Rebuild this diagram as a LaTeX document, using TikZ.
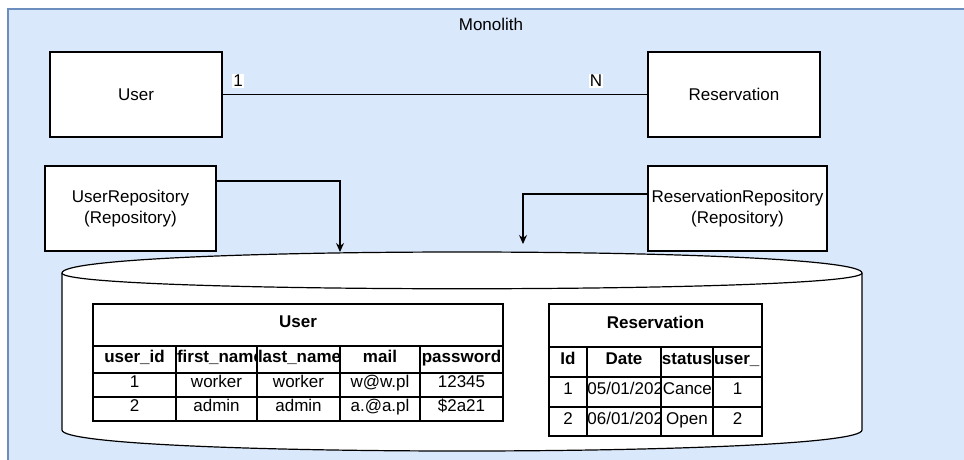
\documentclass[tikz,border=0pt]{standalone}
\usepackage{fontspec}
\setmainfont{Liberation Sans}
\usetikzlibrary{arrows.meta}
\definecolor{contfill}{HTML}{DAE8FC}
\definecolor{contline}{HTML}{6C8EBF}
% centred cell: x1 y1 x2 y2 text name
\newcommand{\tcellC}[6]{%
  \draw[tline] (#1,#2) rectangle (#3,#4);
  \node[celltext] (#6) at ({(#1+#3)/2},{(#2+#4)/2}) {#5};}
% left aligned clipped cell (text overflows, box kept inside the cell)
\newcommand{\tcellL}[7][0.8]{%
  \draw[tline] (#2,#3) rectangle (#4,#5);
  \begin{scope}\clip (#2,#3) rectangle (#4,#5);
  \pgfmathsetlengthmacro{\cw}{(#4-#2)-2}%
  \node[celltext,anchor=west] (#7) at ({#2+#1},{(#3+#5)/2}) {\makebox[\cw][l]{#6}};\end{scope}}
\begin{document}
\begin{tikzpicture}[x=1pt,y=-1pt,
  txt/.style={font=\fontsize{17}{20.5}\selectfont},
  box/.style={draw,line width=1.2pt,fill=white,inner sep=0,txt,align=center},
  tline/.style={line width=1.2pt},
  celltext/.style={inner sep=0,txt,text height=12pt,text depth=6.8pt},
  arr/.style={line width=1.2pt,-{Stealth[length=9pt,width=8pt]}},
  lbl/.style={fill=white,inner sep=1pt,txt}]
\useasboundingbox (0,0) rectangle (964,459);
\fill[white] (0,0) rectangle (964,459);
% container
\draw[contline,fill=contfill,line width=1.3pt] (8,9) rectangle (968,465);
\node[txt] (mono) at (491,24) {Monolith};
% entities
\node[box,minimum width=172pt,minimum height=85pt] (user) at (136,94.5) {User};
\node[box,minimum width=172pt,minimum height=85pt] (res) at (734,94.5) {Reservation};
\draw[tline] (user) -- (res);
\node[lbl] (one) at (238,81) {1};
\node[lbl] (n) at (596,81) {N};
% repositories
\node[box,minimum width=171pt,minimum height=85pt] (urepo) at (130.5,208.5) {UserRepository\\(Repository)};
\node[box,minimum width=179pt,minimum height=85pt] (rrepo) at (737.5,208.5) {ReservationRepository\\(Repository)};
% database cylinder
\path[draw,fill=white,line width=1.2pt] (62,273) .. controls (62,245) and (862,245) .. (862,273)
  -- (862,430) .. controls (862,458) and (62,458) .. (62,430) -- cycle;
\draw[line width=1.2pt] (62,273) .. controls (62,294) and (862,294) .. (862,273);
\coordinate (t1) at (340,252);
\coordinate (t2) at (523,244);
\draw[arr] ([yshift=27.5pt]urepo.east) -| (t1);
\draw[arr] ([yshift=14.5pt]rrepo.west) -| (t2);
% User table
\tcellC{93}{304}{503}{346}{\bfseries User}{ut}
\tcellC{93}{346}{176}{373}{\bfseries user\_id}{uh1}
\tcellL{176}{346}{257}{373}{\bfseries first\_name}{uh2}
\tcellL{257}{346}{340}{373}{\bfseries last\_name}{uh3}
\tcellC{340}{346}{420}{373}{\bfseries mail}{uh4}
\tcellC{420}{346}{503}{373}{\bfseries password}{uh5}
\tcellC{93}{373}{176}{397}{1}{ua1}
\tcellC{176}{373}{257}{397}{worker}{ua2}
\tcellC{257}{373}{340}{397}{worker}{ua3}
\tcellC{340}{373}{420}{397}{w@w.pl}{ua4}
\tcellC{420}{373}{503}{397}{12345}{ua5}
\tcellC{93}{397}{176}{421}{2}{ub1}
\tcellC{176}{397}{257}{421}{admin}{ub2}
\tcellC{257}{397}{340}{421}{admin}{ub3}
\tcellC{340}{397}{420}{421}{a.@a.pl}{ub4}
\tcellC{420}{397}{503}{421}{\$2a21}{ub5}
% Reservation table
\tcellC{549}{304}{762}{347}{\bfseries Reservation}{rt}
\tcellC{549}{347}{587}{377}{\bfseries Id}{rh1}
\tcellC{587}{347}{661}{377}{\bfseries Date}{rh2}
\tcellC{661}{347}{713}{377}{\bfseries status}{rh3}
\tcellL{713}{347}{762}{377}{\bfseries user\_}{rh4}
\tcellC{549}{377}{587}{407}{1}{ra1}
\tcellL[0.2]{587}{377}{661}{407}{05/01/202}{ra2}
\tcellL[1.6]{661}{377}{713}{407}{Cancel}{ra3}
\tcellC{713}{377}{762}{407}{1}{ra4}
\tcellC{549}{407}{587}{436}{2}{rb1}
\tcellL[0.2]{587}{407}{661}{436}{06/01/202}{rb2}
\tcellC{661}{407}{713}{436}{Open}{rb3}
\tcellC{713}{407}{762}{436}{2}{rb4}
\end{tikzpicture}
\end{document}
